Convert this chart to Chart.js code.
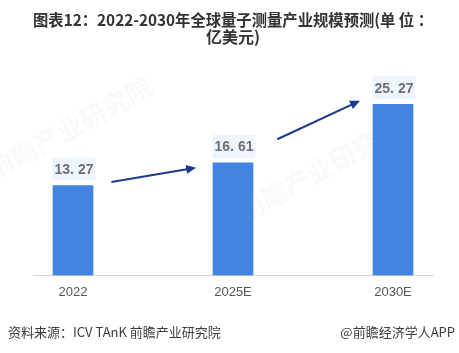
<!DOCTYPE html>
<html>
<head>
<meta charset="utf-8">
<script src="https://cdn.jsdelivr.net/npm/chart.js@4"></script>
<style>
  html, body { margin: 0; padding: 0; background: #fff; }
  #wrap { width: 459px; height: 353px; position: relative; }
</style>
</head>
<body>
<div id="wrap"><canvas id="chart"></canvas></div>
<script>
const years = ["2022", "2025E", "2030E"];
const marketSize = [13.27, 16.61, 25.27];
const titleLines = ["图表12：2022-2030年全球量子测量产业规模预测(单 位 ：", "亿美元)"];
const sourceText = "资料来源：ICV TAnK 前瞻产业研究院";
const brandText = "@前瞻经济学人APP";
// trend arrows, in data units (x = category index, y = value)
const arrowFrom = [[0.24, 13.8], [1.277, 20.1]];
const arrowTo = [[0.77, 15.9], [1.794, 25.8]];

const barColor = "#4285e0";
const arrowColor = "#1a3a8c";

const valueLabels = {
    id: "valueLabels",
    afterDatasetsDraw(chart) {
        const ctx = chart.ctx;
        const meta = chart.getDatasetMeta(0);
        ctx.save();
        ctx.font = "bold 14px 'Liberation Sans', Arial, sans-serif";
        ctx.textAlign = "center";
        ctx.textBaseline = "middle";
        meta.data.forEach((bar, i) => {
            const text = marketSize[i].toFixed(2).replace(".", ". ");
            const w = 43, h = 23;
            const bottom = bar.y - 5;
            ctx.fillStyle = "#eef4fd";
            ctx.fillRect(bar.x - w / 2 + 1, bottom - h, w, h);
            ctx.fillStyle = "#6f6f6f";
            ctx.fillText(text, bar.x + 1, bottom - h / 2 + 1);
        });
        ctx.restore();
    },
};

const trendArrows = {
    id: "trendArrows",
    afterDatasetsDraw(chart) {
        const ctx = chart.ctx;
        const xs = chart.scales.x, ys = chart.scales.y;
        ctx.save();
        ctx.strokeStyle = arrowColor;
        ctx.fillStyle = arrowColor;
        ctx.lineWidth = 2;
        arrowFrom.forEach((from, i) => {
            const x0 = xs.getPixelForValue(from[0]), y0 = ys.getPixelForValue(from[1]);
            const x1 = xs.getPixelForValue(arrowTo[i][0]), y1 = ys.getPixelForValue(arrowTo[i][1]);
            const ang = Math.atan2(y1 - y0, x1 - x0);
            const head = 10;
            ctx.beginPath();
            ctx.moveTo(x0, y0);
            ctx.lineTo(x1 - Math.cos(ang) * head * 0.8, y1 - Math.sin(ang) * head * 0.8);
            ctx.stroke();
            ctx.beginPath();
            ctx.moveTo(x1, y1);
            ctx.lineTo(x1 - head * Math.cos(ang) + 4.5 * Math.sin(ang), y1 - head * Math.sin(ang) - 4.5 * Math.cos(ang));
            ctx.lineTo(x1 - head * Math.cos(ang) - 4.5 * Math.sin(ang), y1 - head * Math.sin(ang) + 4.5 * Math.cos(ang));
            ctx.closePath();
            ctx.fill();
        });
        ctx.restore();
    },
};

const watermark = {
    id: "watermark",
    beforeDatasetsDraw(chart) {
        const ctx = chart.ctx;
        ctx.save();
        ctx.fillStyle = "rgba(170, 180, 195, 0.08)";
        ctx.font = "bold 26px 'Noto Sans CJK SC', sans-serif";
        ctx.textAlign = "center";
        ctx.textBaseline = "middle";
        [[70, 128], [320, 170]].forEach(([x, y]) => {
            ctx.save();
            ctx.translate(x, y);
            ctx.rotate(-0.5);
            ctx.fillText("前瞻产业研究院", 0, 0);
            ctx.restore();
        });
        ctx.restore();
    },
};

const footer = {
    id: "footer",
    afterDraw(chart) {
        const ctx = chart.ctx;
        ctx.save();
        ctx.font = "13px 'Noto Sans CJK SC', sans-serif";
        ctx.fillStyle = "#3c3c3c";
        ctx.textBaseline = "middle";
        ctx.textAlign = "left";
        ctx.fillText(sourceText, 8, 332);
        ctx.textAlign = "right";
        ctx.fillText(brandText, 455, 332);
        ctx.restore();
    },
};

new Chart(document.getElementById("chart"), {
    type: "bar",
    data: {
        datasets: [{
            data: marketSize.map((v, i) => ({ x: i, y: v })),
            backgroundColor: barColor,
            barThickness: 40,
        }],
    },
    options: {
        responsive: true,
        maintainAspectRatio: false,
        animation: false,
        layout: { padding: { left: 33, right: 26, top: 0, bottom: 44 } },
        plugins: {
            legend: { display: false },
            tooltip: { enabled: false },
            title: {
                display: true,
                text: titleLines,
                color: "#333333",
                font: { family: "'Noto Sans CJK SC', sans-serif", size: 16, weight: "bold", lineHeight: 1.1 },
                padding: { top: 11, bottom: 26 },
            },
        },
        scales: {
            x: {
                type: "linear",
                offset: false,
                min: -0.25,
                max: 2.25,
                afterBuildTicks: (axis) => {
                    axis.ticks = years.map((_, i) => ({ value: i }));
                },
                grid: { display: false, drawTicks: false },
                border: { color: "#d9d9d9", width: 1 },
                ticks: {
                    callback: (v) => years[v],
                    color: "#555555",
                    padding: 9,
                    font: { family: "'Liberation Sans', Arial, sans-serif", size: 13 },
                },
            },
            y: {
                display: false,
                min: 0,
                max: 30,
            },
        },
    },
    plugins: [watermark, valueLabels, trendArrows, footer],
});
</script>
</body>
</html>
